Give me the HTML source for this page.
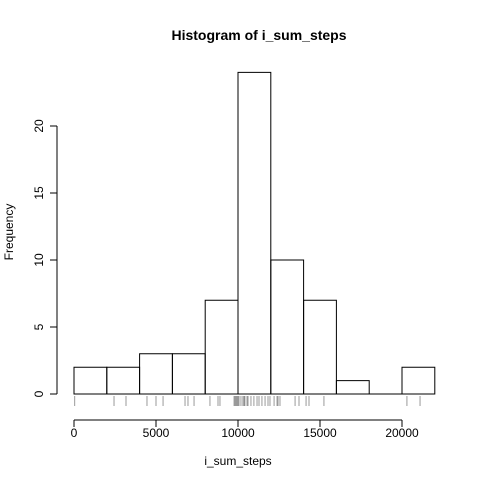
<!DOCTYPE html>
<html><head><meta charset="utf-8"><style>
body{margin:0;background:#fff}
svg text{font-family:"Liberation Sans",Arial,sans-serif;fill:#000}
</style></head><body>
<svg id="c" width="480" height="480" xmlns="http://www.w3.org/2000/svg">
<text x="259" y="40" text-anchor="middle" font-size="14" font-weight="bold">Histogram of i_sum_steps</text>
<text x="238" y="465" text-anchor="middle" font-size="12">i_sum_steps</text>
<text transform="translate(13,232) rotate(-90)" text-anchor="middle" font-size="12">Frequency</text>
<g id="bars"></g><g id="rug"></g><g id="xaxis"></g><g id="yaxis"></g>
</svg>
<script>
const breaks=[0,2000,4000,6000,8000,10000,12000,14000,16000,18000,20000,22000];
const counts=[2,2,3,3,7,24,10,7,1,0,2];
const xTicks=[0,5000,10000,15000,20000];
const yTicks=[0,5,10,15,20];
const rugValues=[41,2440,3170,4450,5000,5430,6770,6950,7320,8290,8780,8900,9760,9820,9880,9940,10000,10060,10180,10300,10420,10550,10370,10610,10790,10970,11160,11280,11460,11650,11830,11950,12200,12380,12440,12560,13480,13720,14150,14330,15240,20300,21100];
const NS='http://www.w3.org/2000/svg';
const X=v=>74+v*0.0164, Y=v=>394-v*13.4;
function mk(t,p,a){const e=document.createElementNS(NS,t);for(const k in a)e.setAttribute(k,a[k]);p.appendChild(e);return e;}
const bars=document.getElementById('bars');
counts.forEach((c,i)=>{
const x0=X(breaks[i]),x1=X(breaks[i+1]),y0=Y(0),y1=Y(c);
const r=mk('path',bars,{d:`M${x0},${y0}L${x0},${y1}L${x1},${y1}L${x1},${y0}Z`,fill:'none',stroke:'#000','stroke-width':1});

});
const rug=document.getElementById('rug');
rugValues.forEach(v=>{const l=mk('line',rug,{x1:X(v),x2:X(v),y1:396,y2:406,stroke:'#000','stroke-opacity':0.4,'stroke-width':1});

});
const xa=document.getElementById('xaxis');


mk('line',xa,{x1:X(xTicks[0]),x2:X(xTicks[xTicks.length-1]),y1:420,y2:420,stroke:'#000'});
xTicks.forEach(v=>{mk('line',xa,{x1:X(v),x2:X(v),y1:420,y2:427,stroke:'#000'});
const t=mk('text',xa,{x:X(v),y:437,'text-anchor':'middle','font-size':12});t.textContent=v;

});
const ya=document.getElementById('yaxis');


mk('line',ya,{x1:57,x2:57,y1:Y(yTicks[0]),y2:Y(yTicks[yTicks.length-1]),stroke:'#000'});
yTicks.forEach(v=>{mk('line',ya,{x1:50,x2:57,y1:Y(v),y2:Y(v),stroke:'#000'});
const t=mk('text',ya,{transform:`translate(43,${Y(v)}) rotate(-90)`,'text-anchor':'middle','font-size':12});t.textContent=v;

});
</script>
</body></html>
